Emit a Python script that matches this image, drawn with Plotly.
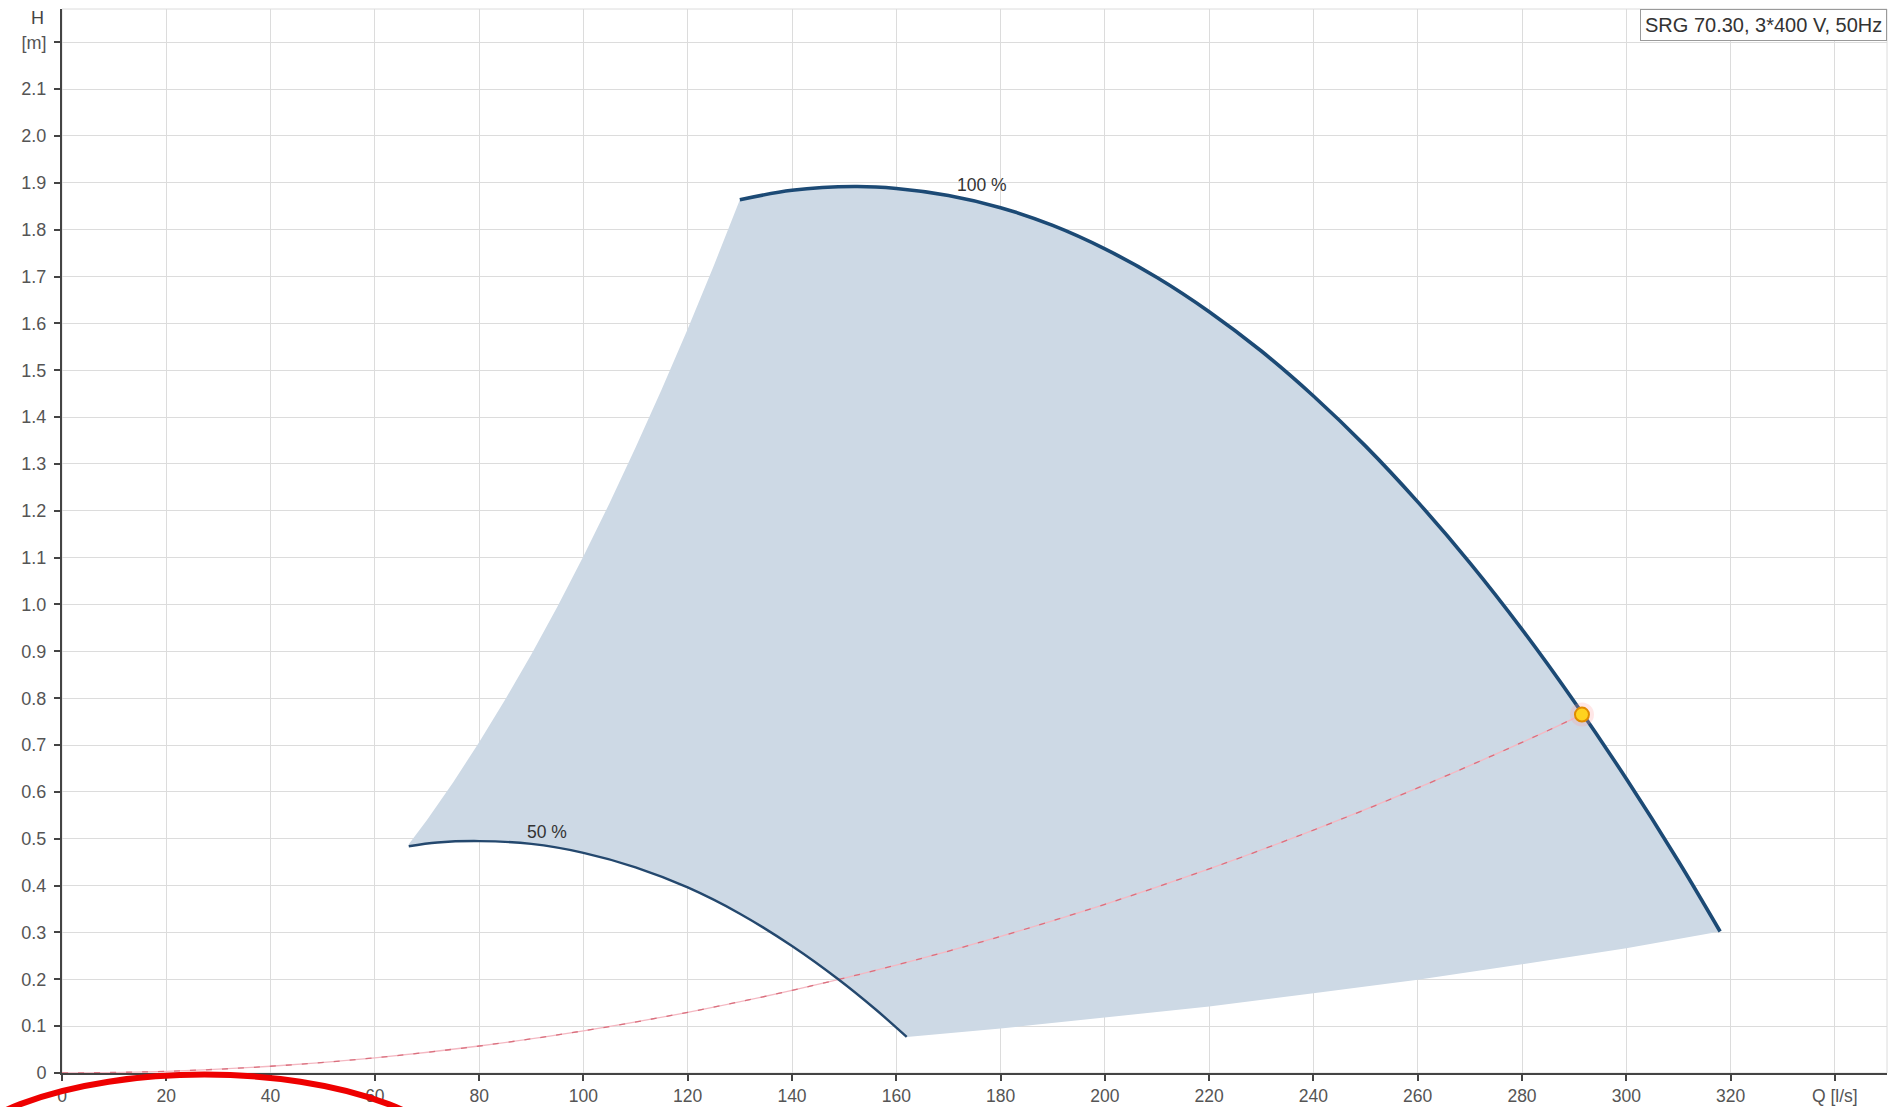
import plotly.graph_objects as go

# ---- data ----
q100 = [130, 140, 152, 160, 170, 180, 190, 200, 210, 220, 230, 240, 250, 260, 270, 280, 290, 300, 310, 318]
h100 = [1.864, 1.884, 1.892, 1.888, 1.873, 1.847, 1.809, 1.759, 1.698, 1.625, 1.541, 1.445, 1.338, 1.219, 1.089, 0.947, 0.793, 0.628, 0.452, 0.302]

q50 = [66.5, 72, 80, 90, 100, 110, 120, 130, 140, 149, 156, 162]
h50 = [0.484, 0.492, 0.495, 0.489, 0.470, 0.439, 0.396, 0.340, 0.271, 0.199, 0.136, 0.077]

# lower boundary of operating range (between curve ends)
q_low = [162, 180, 200, 220, 240, 260, 280, 300, 318]
h_low = [0.077, 0.095, 0.118, 0.142, 0.170, 0.199, 0.232, 0.266, 0.302]

# left boundary of operating range (between curve starts)
q_left = [66.5, 70, 75, 80, 85, 90, 95, 100, 105, 110, 115, 120, 125, 130]
h_left = [0.488, 0.540, 0.620, 0.706, 0.797, 0.893, 0.995, 1.103, 1.216, 1.335, 1.459, 1.588, 1.723, 1.864]

# system curve
q_sys = [0, 20, 40, 60, 80, 100, 120, 140, 160, 180, 200, 220, 240, 260, 280, 291.5]
h_sys = [0, 0.0036, 0.0144, 0.0324, 0.0576, 0.090, 0.1296, 0.1764, 0.2304, 0.2916, 0.360, 0.4356, 0.5184, 0.6084, 0.7056, 0.765]

op_q = [291.5]
op_h = [0.765]

x_ticks = [0, 20, 40, 60, 80, 100, 120, 140, 160, 180, 200, 220, 240, 260, 280, 300, 320, 340]
x_labels = ["0", "20", "40", "60", "80", "100", "120", "140", "160", "180", "200", "220",
            "240", "260", "280", "300", "320", "Q [l/s]"]
y_ticks = [round(i * 0.1, 1) for i in range(23)]
y_labels = ["0"] + ["%.1f" % v for v in y_ticks[1:22]] + ["[m]"]

legend_text = "SRG 70.30, 3*400 V, 50Hz"
label100 = "100 %"
label50 = "50 %"

# ---- figure ----
fig = go.Figure()

# shaded operating area
poly_q = q50 + q_low[1:] + q100[::-1][1:] + q_left[::-1][1:]
poly_h = h50 + h_low[1:] + h100[::-1][1:] + h_left[::-1][1:]
fig.add_trace(go.Scatter(x=poly_q, y=poly_h, mode="lines", fill="toself",
                         fillcolor="#cdd9e5", line=dict(width=0, color="rgba(0,0,0,0)"),
                         hoverinfo="skip", showlegend=False))

# system curve (pink base + darker dashes)
fig.add_trace(go.Scatter(x=q_sys, y=h_sys, mode="lines", line=dict(color="#f4b8c2", width=1.3, shape="spline"),
                         hoverinfo="skip", showlegend=False))
fig.add_trace(go.Scatter(x=q_sys, y=h_sys, mode="lines",
                         line=dict(color="#d9707e", width=1.3, shape="spline", dash="6px,10px"),
                         hoverinfo="skip", showlegend=False))

# pump curves
fig.add_trace(go.Scatter(x=q50, y=h50, mode="lines", line=dict(color="#24486e", width=2.4, shape="spline"),
                         showlegend=False))
fig.add_trace(go.Scatter(x=q100, y=h100, mode="lines", line=dict(color="#1c4a75", width=3.6, shape="spline"),
                         showlegend=False))

# operating point
fig.add_trace(go.Scatter(x=op_q, y=op_h, mode="markers",
                         marker=dict(size=24, color="rgba(255,160,160,0.25)", line=dict(width=0)),
                         hoverinfo="skip", showlegend=False))
fig.add_trace(go.Scatter(x=op_q, y=op_h, mode="markers",
                         marker=dict(size=14, color="#ffd21f", line=dict(color="#e08a00", width=2)),
                         showlegend=False))

font_family = "Liberation Sans, Arial, sans-serif"

fig.update_layout(
    width=1896, height=1107,
    margin=dict(l=62, r=9, t=9, b=34, autoexpand=False),
    paper_bgcolor="white", plot_bgcolor="white",
    font=dict(family=font_family, size=17, color="#555"),
    xaxis=dict(range=[0, 350], tickvals=x_ticks, ticktext=x_labels, automargin=False,
               showgrid=True, gridcolor="#dcdcdc", gridwidth=1,
               showline=True, linecolor="#444", linewidth=2,
               ticks="outside", ticklen=6, tickcolor="#444", tickwidth=1.5,
               zeroline=False, tickfont=dict(size=17.5, color="#555")),
    yaxis=dict(range=[0, 2.271], tickvals=y_ticks, ticktext=y_labels, automargin=False,
               showgrid=True, gridcolor="#dcdcdc", gridwidth=1,
               showline=True, linecolor="#444", linewidth=2,
               ticks="outside", ticklen=6, tickcolor="#444", tickwidth=1.5,
               ticklabelstandoff=4,
               zeroline=False, tickfont=dict(size=18, color="#555")),
    shapes=[
        dict(type="rect", xref="paper", yref="paper", x0=0, x1=1, y0=0, y1=1,
             line=dict(color="#dcdcdc", width=1), layer="below"),
        dict(type="circle", xref="paper", yref="paper",
             x0=-0.0646, x1=0.2207, y0=-0.191, y1=-0.0015,
             line=dict(color="#ee0000", width=6), layer="above"),
    ],
    annotations=[
        dict(text=legend_text, xref="paper", yref="paper", x=1, y=1,
             xanchor="right", yanchor="top", showarrow=False,
             font=dict(size=20, color="#333"), bgcolor="white",
             bordercolor="#9a9a9a", borderwidth=1, borderpad=4),
        dict(text=label100, x=176.5, y=1.895, xref="x", yref="y", showarrow=False,
             font=dict(size=17.5, color="#333")),
        dict(text=label50, x=93, y=0.514, xref="x", yref="y", showarrow=False,
             font=dict(size=17.5, color="#333")),
        dict(text="H", xref="paper", yref="y", x=-0.0135, y=2.252, xanchor="center",
             yanchor="middle", showarrow=False, font=dict(size=18, color="#444")),
    ],
)

fig.write_html("out.html", config={"displayModeBar": False},
               post_script="document.body.style.margin='0';document.body.style.overflow='hidden';")
